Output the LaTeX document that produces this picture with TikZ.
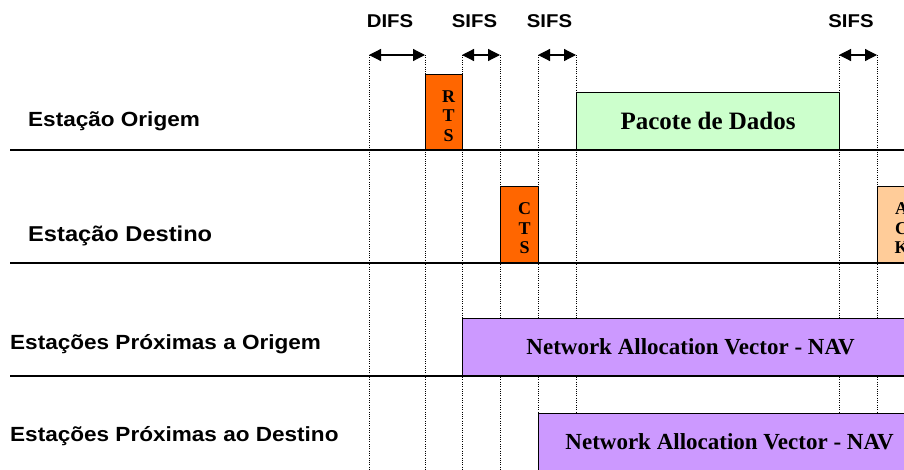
\documentclass[tikz,border=0pt]{standalone}
\usepackage{fontspec}
\setmainfont{Liberation Serif}
\setsansfont{Liberation Sans}[FakeStretch=1.1]
\usetikzlibrary{arrows.meta}
\definecolor{laranja}{HTML}{FF6600}
\definecolor{pessego}{HTML}{FFCC99}
\definecolor{verde}{HTML}{CCFFCC}
\definecolor{lilas}{HTML}{CC99FF}
\begin{document}
\begin{tikzpicture}[x=1pt,y=-1pt,line join=round,>={Triangle[length=12pt,width=12pt]},
  caixa/.style={draw,line width=1.2pt,inner sep=0pt,anchor=south west},
  letras/.style={align=center,inner sep=0pt,font=\bfseries\fontsize{18}{19.5}\selectfont},
  est/.style={anchor=base west,inner sep=0pt,font=\sffamily\bfseries\fontsize{20.5}{24}\selectfont},
  ifs/.style={anchor=base,font=\sffamily\bfseries\fontsize{18.5}{22}\selectfont}]
\useasboundingbox (0,0) rectangle (904,469);
\clip (0,0) rectangle (904,469);
% instantes
\foreach \n/\x in {1/369,2/425,3/462,4/500,5/538,6/576,7/839,8/877}
  \coordinate (t\n) at (\x,55);
\foreach \n in {1,...,8}
  \draw[line width=0.7pt,dash pattern=on 0.9pt off 1.4pt] (t\n) -- ++(0,420);
% quadros
\node[caixa,fill=laranja,minimum width=37pt,minimum height=75pt] (rts) at (425,150) {};
\node[letras] (rtsl) at ([shift={(4.5,4)}]rts.center) {R\\T\\S};
\node[caixa,fill=verde,minimum width=263pt,minimum height=57pt,
  font=\bfseries\fontsize{25}{30}\selectfont] (dados) at (576,150) {Pacote de Dados};
\node[caixa,fill=laranja,minimum width=38pt,minimum height=76pt] (cts) at (500,263) {};
\node[letras] (ctsl) at ([shift={(5,4)}]cts.center) {C\\T\\S};
\node[caixa,fill=pessego,minimum width=38pt,minimum height=76pt] (ack) at (877,263) {};
\node[letras] (ackl) at ([shift={(5,4)}]ack.center) {A\\C\\K};
\node[caixa,fill=lilas,minimum width=456pt,minimum height=57pt,
  font=\bfseries\fontsize{23}{28}\selectfont] (nav1) at (462,376) {Network Allocation Vector - NAV};
\node[caixa,fill=lilas,minimum width=382pt,minimum height=57pt,
  font=\bfseries\fontsize{23}{28}\selectfont] (nav2) at (538,471) {Network Allocation Vector - NAV};
\foreach \y in {150,263,376}
  \draw[line width=1.2pt] (10,\y) -- (904,\y);
% intervalos
\draw[<->,line width=1.2pt] (t1) -- (t2);
\draw[<->,line width=1.2pt] (t3) -- (t4);
\draw[<->,line width=1.2pt] (t5) -- (t6);
\draw[<->,line width=1.2pt] (t7) -- (t8);
\node[ifs] (difs) at (390,27) {DIFS};
\node[ifs] (sifs1) at (474.5,27) {SIFS};
\node[ifs] (sifs2) at (549.5,27) {SIFS};
\node[ifs] (sifs3) at (851,27) {SIFS};
% estacoes
\node[est] (orig) at (28,126) {Estação Origem};
\node[est,font=\sffamily\bfseries\fontsize{21.5}{24}\selectfont] (dest) at (28,241.5) {Estação Destino};
\node[est] (porig) at (10,349) {Estações Próximas a Origem};
\node[est] (pdest) at (10,441.5) {Estações Próximas ao Destino};
\end{tikzpicture}
\end{document}
